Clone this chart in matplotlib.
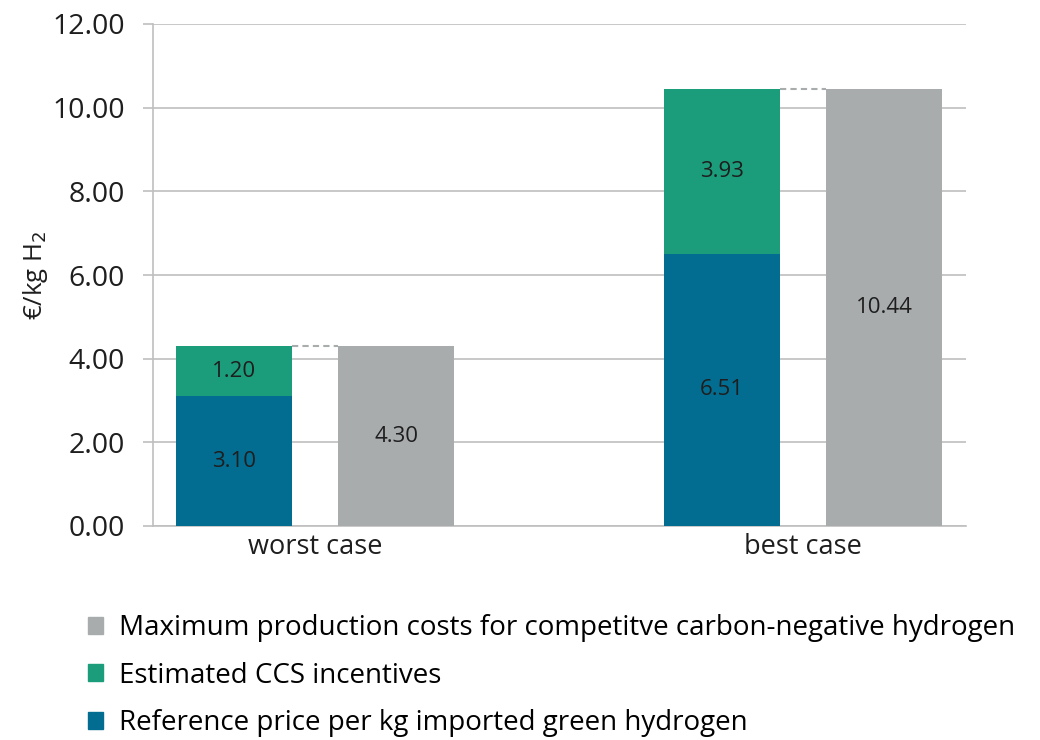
import matplotlib
matplotlib.use("Agg")
import matplotlib.pyplot as plt
from matplotlib.patches import Patch
import numpy as np

categories = ["worst case", "best case"]
reference_price = [3.10, 6.51]
ccs_incentives = [1.20, 3.93]
max_costs = [4.30, 10.44]
yticks = [0, 2, 4, 6, 8, 10, 12]

c_blue = "#036D91"
c_green = "#1B9D7B"
c_gray = "#A8ACAD"
c_grid = "#BFBFBF"
c_text = "#1e1e1e"

plt.rcParams['font.family'] = ['Open Sans', 'DejaVu Sans']

fig = plt.figure(figsize=(10.4, 7.4), dpi=100)
ax = fig.add_axes([153/1040, 1-526/740, (966-153)/1040, (526-24)/740])

x = np.arange(len(categories))
off = 0.166
w = 0.238
stack_total = [a + b for a, b in zip(reference_price, ccs_incentives)]

ax.bar(x - off, reference_price, w, color=c_blue, zorder=3)
ax.bar(x - off, ccs_incentives, w, bottom=reference_price, color=c_green, zorder=3)
ax.bar(x + off, max_costs, w, color=c_gray, zorder=3)

for i in range(len(categories)):
    ax.plot([x[i] - off + w/2, x[i] + off - w/2], [stack_total[i], max_costs[i]],
            color=c_gray, ls=(0, (3, 2)), lw=1.5, zorder=2)
    ax.text(x[i] - off, reference_price[i]/2, f"{reference_price[i]:.2f}",
            ha='center', va='center', fontsize=16, color=c_text, zorder=4)
    ax.text(x[i] - off, reference_price[i] + ccs_incentives[i]/2, f"{ccs_incentives[i]:.2f}",
            ha='center', va='center', fontsize=16, color=c_text, zorder=4)
    ax.text(x[i] + off, max_costs[i]/2, f"{max_costs[i]:.2f}",
            ha='center', va='center', fontsize=16, color=c_text, zorder=4)

ax.set_xlim(-0.332, 1.334)
ax.set_ylim(0, 12)
ax.set_yticks(yticks)
ax.set_yticklabels([f"{v:.2f}" for v in yticks], fontsize=20.5, color=c_text)
ax.set_xticks(x)
ax.set_xticklabels(categories, fontsize=19.5, color=c_text)
ax.tick_params(axis='x', length=0, pad=5)
ax.tick_params(axis='y', length=7, width=1.2, color=c_grid, pad=13)
ax.yaxis.grid(True, color=c_grid, lw=1.2, zorder=0)
ax.set_axisbelow(True)
for s in ['top', 'right']:
    ax.spines[s].set_visible(False)
for s in ['left', 'bottom']:
    ax.spines[s].set_color(c_grid)
    ax.spines[s].set_linewidth(1.2)
ax.set_ylabel("€/kg H$_2$", fontsize=18.5, color=c_text, labelpad=2)

handles = [Patch(color=c_gray), Patch(color=c_green), Patch(color=c_blue)]
labels = ["Maximum production costs for competitve carbon-negative hydrogen",
          "Estimated CCS incentives",
          "Reference price per kg imported green hydrogen"]
fig.legend(handles, labels, loc='upper left', bbox_to_anchor=(77/1040, 1-603/740),
           frameon=False, fontsize=20, handlelength=0.55, handleheight=0.55,
           handletextpad=0.55, labelspacing=0.7, borderaxespad=0)

fig.savefig("out.png", dpi=100)
